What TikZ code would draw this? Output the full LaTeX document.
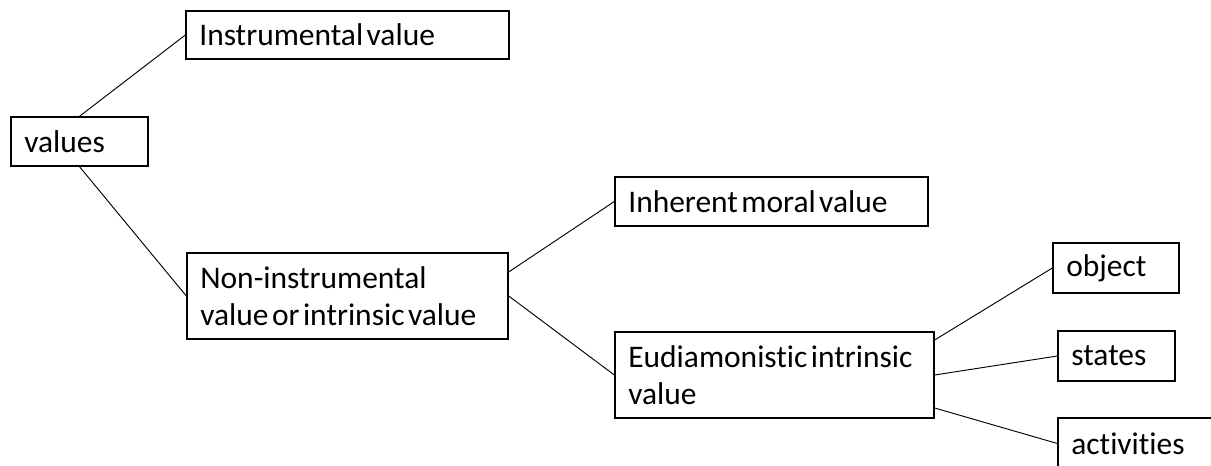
\documentclass[tikz,border=0pt]{standalone}
\usepackage{fontspec}
\setmainfont{Carlito}[Ligatures={CommonOff,RareOff}]
\begin{document}
\begin{tikzpicture}[x=0.75pt,y=-0.75pt,
    font=\fontsize{23.6pt}{28pt}\selectfont,
    box/.style={draw,line width=1pt,align=left,inner xsep=10pt,inner ysep=0pt,text width=#1,
      execute at begin node={\spaceskip=2.6pt plus 1pt\relax}},
    line width=0.7pt]
      \useasboundingbox (0,0) rectangle (1211,466);
      \clip (0,0) rectangle (1211,466);
      \node[box=82.75pt,minimum height=36.75pt] (val) at (79.5,141.5) {values};
      \node[box=222.25pt,minimum height=36pt] (ins) at (347.5,35) {Instrumental value};
      \node[box=220.75pt,minimum height=64.5pt] (non) at (347.5,296) {Non-instrumental\\value or intrinsic value};
      \node[box=214.75pt,minimum height=36.75pt] (inh) at (771.5,201.5) {Inherent moral value};
      \node[box=219.25pt,minimum height=64.5pt] (eud) at (774.5,375) {Eudiamonistic intrinsic\\value};
      \node[box=74.5pt,minimum height=37.5pt] (obj) at (1116,268) {object};
      \node[box=67.75pt,minimum height=37.5pt] (sta) at (1116.5,356) {states};
      \node[box=101.5pt,minimum height=38.25pt] (act) at (1139,443.5) {activities};
      \draw (val.north) -- (ins.west);
      \draw (val.south) -- (non.west);
      \draw ([yshift=18pt]non.east) -- (inh.west);
      \draw (non.east) -- (eud.west);
      \draw ([yshift=26.25pt]eud.east) -- (obj.west);
      \draw (eud.east) -- (sta.west);
      \draw ([yshift=-24.75pt]eud.east) -- (act.west);
    \end{tikzpicture}
\end{document}
